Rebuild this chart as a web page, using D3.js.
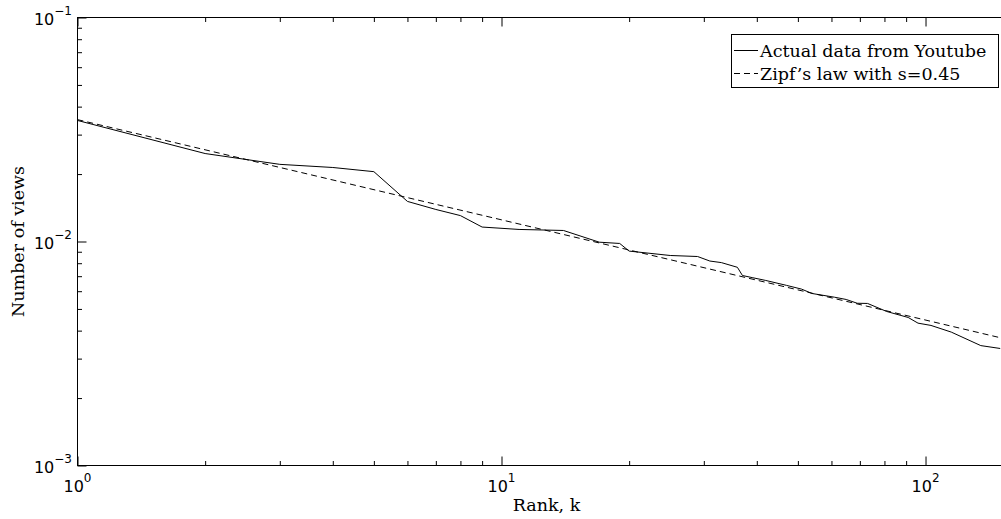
<!DOCTYPE html>
<html>
<head>
<meta charset="utf-8">
<script src="https://cdn.jsdelivr.net/npm/d3@7/dist/d3.min.js"></script>
<style>
  html, body { margin: 0; padding: 0; background: #fff; overflow: hidden; }
  svg { display: block; }
</style>
</head>
<body>
<svg id="chart" width="1001" height="519"></svg>
<script>
// Observed view share by popularity rank (YouTube sample)
const ranks = [1, 2, 3, 4, 5, 6, 7, 8, 9, 11, 14, 17, 19, 20, 25, 29, 31, 33, 36, 37,
               39, 42, 47, 51, 54, 61, 65, 69, 73, 81, 91, 96, 103, 115, 135, 150];
const views = [0.0347, 0.0247, 0.0221, 0.0214, 0.0205, 0.0151, 0.0139, 0.01305, 0.0116, 0.01132,
               0.0112, 0.00993, 0.0098, 0.00906, 0.00866, 0.00857, 0.00818, 0.00805, 0.00767, 0.00705,
               0.0069, 0.0067, 0.00637, 0.00613, 0.00586, 0.00564, 0.00551, 0.0053, 0.00529, 0.00487,
               0.00458, 0.00432, 0.00422, 0.00394, 0.00343, 0.00333];

// Zipf fit (s = 0.45): a straight line in log-log space, given by its two ends
const zipfRanks = [1, 150];
const zipfViews = [0.035, 0.00372];

// Axis ranges and tick labels
const xDomain = [1, 163];
const yDomain = [1e-3, 1e-1];
const xMajor = [1, 10, 100];
const xMajorExp = ["0", "1", "2"];
const yMajor = [1e-3, 1e-2, 1e-1];
const yMajorExp = ["\u22123", "\u22122", "\u22121"];

const legendLabels = ["Actual data from Youtube", "Zipf\u2019s law with s=0.45"];
const xTitle = "Rank, k";
const yTitle = "Number of views";

const svg = d3.select("#chart");
const L = 77.5, R = 1015.5, T = 17.5, B = 465.5;
const serif = "'DejaVu Serif', serif";
const sans = "'DejaVu Sans', sans-serif";

const x = d3.scaleLog().domain(xDomain).range([L, R]);
const y = d3.scaleLog().domain(yDomain).range([B, T]);

// minor ticks (2..9 within each decade)
function minors(domain) {
  const out = [];
  const lo = Math.floor(Math.log10(domain[0])), hi = Math.ceil(Math.log10(domain[1]));
  for (let e = lo; e < hi; e++) {
    for (let m = 2; m <= 9; m++) {
      const v = m * Math.pow(10, e);
      if (v > domain[0] && v < domain[1]) out.push(v);
    }
  }
  return out;
}
const xMinor = minors(xDomain);
const yMinor = minors(yDomain);

const g = svg.append("g");
const axisStyle = sel => sel.call(s => s.select(".domain").remove())
  .selectAll("line").attr("stroke", "#000").attr("stroke-width", 1);

// ticks on all four sides, pointing inward
const MAJ = 9, MIN = 4.5;
const sides = [
  [d3.axisBottom(x), `translate(0,${B})`],
  [d3.axisTop(x), `translate(0,${T})`],
];
const vsides = [
  [d3.axisLeft(y), `translate(${L},0)`],
  [d3.axisRight(y), `translate(${R},0)`],
];
sides.forEach(([ax, tr]) => {
  g.append("g").attr("transform", tr)
    .call(ax.tickValues(xMajor).tickSizeInner(-MAJ).tickSizeOuter(0).tickFormat(""))
    .call(axisStyle);
  g.append("g").attr("transform", tr)
    .call(ax.tickValues(xMinor).tickSizeInner(-MIN).tickSizeOuter(0).tickFormat(""))
    .call(axisStyle);
});
vsides.forEach(([ax, tr]) => {
  g.append("g").attr("transform", tr)
    .call(ax.tickValues(yMajor).tickSizeInner(-MAJ).tickSizeOuter(0).tickFormat(""))
    .call(axisStyle);
  g.append("g").attr("transform", tr)
    .call(ax.tickValues(yMinor).tickSizeInner(-MIN).tickSizeOuter(0).tickFormat(""))
    .call(axisStyle);
});

// plot frame
svg.append("rect").attr("x", L).attr("y", T).attr("width", R - L).attr("height", B - T)
  .attr("fill", "none").attr("stroke", "#000").attr("stroke-width", 1);

// clip for the data lines
svg.append("clipPath").attr("id", "plotclip")
  .append("rect").attr("x", L).attr("y", T).attr("width", R - L).attr("height", B - T);

const line = d3.line().x(d => x(d[0])).y(d => y(d[1]));
const plot = svg.append("g").attr("clip-path", "url(#plotclip)");

plot.append("path")
  .datum(zipfRanks.map((r, i) => [r, zipfViews[i]]))
  .attr("d", line).attr("fill", "none").attr("stroke", "#000")
  .attr("stroke-width", 1).attr("stroke-dasharray", "6,4");

plot.append("path")
  .datum(ranks.map((r, i) => [r, views[i]]))
  .attr("d", line).attr("fill", "none").attr("stroke", "#000")
  .attr("stroke-width", 1).attr("stroke-linejoin", "round");

// tick labels: 10 with superscript exponent
xMajor.forEach((v, i) => {
  const t = svg.append("text").attr("font-family", sans).attr("fill", "#000")
    .attr("x", x(v)).attr("y", 492).attr("text-anchor", "middle");
  t.append("tspan").attr("font-size", 16).text("10");
  t.append("tspan").attr("font-size", 12).attr("dy", -10).text(xMajorExp[i]);
});
yMajor.forEach((v, i) => {
  const t = svg.append("text").attr("font-family", sans).attr("fill", "#000")
    .attr("x", 72).attr("y", y(v) + 7).attr("text-anchor", "end");
  t.append("tspan").attr("font-size", 16).text("10");
  t.append("tspan").attr("font-size", 12).attr("dy", -10).text(yMajorExp[i]);
});

// axis titles
svg.append("text").attr("font-family", serif).attr("font-size", 17.5).attr("fill", "#000")
  .attr("x", (L + R) / 2).attr("y", 511).attr("text-anchor", "middle").text(xTitle);
svg.append("text").attr("font-family", serif).attr("font-size", 17.5).attr("fill", "#000")
  .attr("transform", `translate(24,${(T + B) / 2}) rotate(-90)`).attr("text-anchor", "middle").text(yTitle);

// legend
const lg = svg.append("g");
lg.append("rect").attr("x", 731.5).attr("y", 34.5).attr("width", 267).attr("height", 53)
  .attr("fill", "#fff").attr("stroke", "#000").attr("stroke-width", 1);
const rowY = [50.5, 73.5];
const dashes = [null, "6,4"];
legendLabels.forEach((lab, i) => {
  lg.append("line").attr("x1", 734).attr("x2", 758).attr("y1", rowY[i]).attr("y2", rowY[i])
    .attr("stroke", "#000").attr("stroke-width", 1).attr("stroke-dasharray", dashes[i]);
  lg.append("text").attr("font-family", serif).attr("font-size", 17.5).attr("fill", "#000")
    .attr("x", 760).attr("y", rowY[i] + 6).text(lab);
});
</script>
</body>
</html>
